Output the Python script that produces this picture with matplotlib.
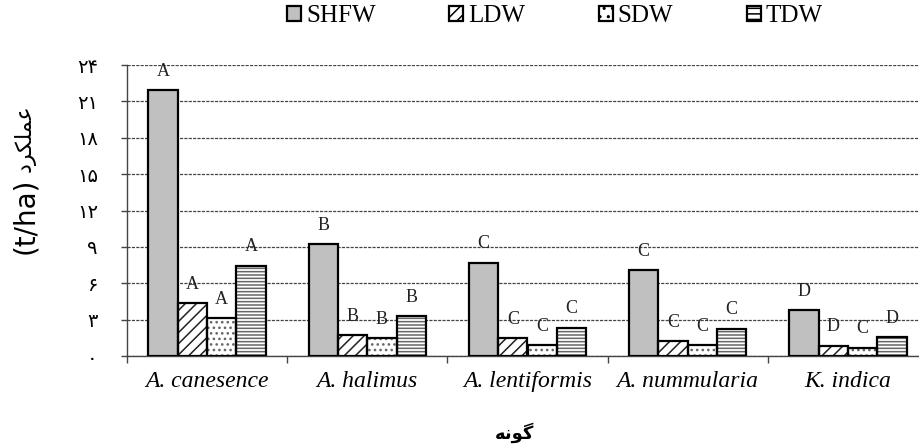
import matplotlib
matplotlib.use("Agg")
import matplotlib.pyplot as plt
from matplotlib.patches import Patch
from matplotlib.ticker import FixedLocator
import numpy as np

# Species and biomass components (t/ha)
species = ["A. canesence", "A. halimus", "A. lentiformis", "A. nummularia", "K. indica"]
series_names = ["SHFW", "LDW", "SDW", "TDW"]
shfw = [21.9, 9.2, 7.7, 7.1, 3.8]
ldw = [4.35, 1.7, 1.45, 1.25, 0.85]
sdw = [3.1, 1.45, 0.9, 0.9, 0.7]
tdw = [7.45, 3.3, 2.35, 2.25, 1.55]
# Mean-separation letters for each bar
let_shfw = ["A", "B", "C", "C", "D"]
let_ldw = ["A", "B", "C", "C", "D"]
let_sdw = ["A", "B", "C", "C", "C"]
let_tdw = ["A", "B", "C", "C", "D"]
ytick_vals = [0, 3, 6, 9, 12, 15, 18, 21, 24]
ytick_labels = ["۰", "۳", "۶", "۹", "۱۲", "۱۵", "۱۸", "۲۱", "۲۴"]
# Persian labels written in shaped presentation forms (visual order)
ylabel_unit = "(t/ha)"
ylabel_fa = "\uFEA9\uFEAE\uFB91\uFEE0\uFEE4\uFECB"
xlabel_fa = "\uFEEA\uFEE7\uFEEE\uFB94"

values = [shfw, ldw, sdw, tdw]
letters = [let_shfw, let_ldw, let_sdw, let_tdw]
styles = [
    dict(face="#c0c0c0", hatch=None, hcol="black"),
    dict(face="white", hatch="///", hcol="#222222"),
    dict(face="white", hatch="...", hcol="#666666"),
    dict(face="white", hatch="-----", hcol="#666666"),
]

plt.rcParams["hatch.linewidth"] = 1.1
fig = plt.figure(figsize=(9.2, 4.48), dpi=100)
ax = fig.add_axes([127 / 920, 92 / 448, 801 / 920, 291 / 448])

x = np.arange(len(species))
w = 0.183
for k, (vals, st) in enumerate(zip(values, styles)):
    pos = x + (k - 1.5) * w
    # hatch layer
    ax.bar(pos, vals, width=w, color=st["face"], hatch=st["hatch"],
           edgecolor=st["hcol"], linewidth=0, zorder=3)
    # outline layer
    ax.bar(pos, vals, width=w, facecolor="none", edgecolor="black",
           linewidth=1.6, zorder=4)
    for xi, v, lab in zip(pos, vals, letters[k]):
        ax.annotate(lab, (xi, v), xytext=(0, 13.5), textcoords="offset points",
                    ha="center", va="center", fontsize=13,
                    family="Liberation Serif", color="#222222", zorder=5)

ax.set_xlim(-0.5, 4.5)
ax.set_ylim(0, 24)
ax.yaxis.set_major_locator(FixedLocator(ytick_vals))
ax.set_yticklabels(ytick_labels, family="DejaVu Sans", fontsize=14)
ax.tick_params(axis="y", direction="out", length=4, width=1, color="#444444",
               pad=17, labelcolor="black")
ax.set_xticks(x)
ax.set_xticklabels(species, family="Liberation Serif", style="italic", fontsize=17)
ax.tick_params(axis="x", which="major", length=0, pad=11)
ax.xaxis.set_minor_locator(FixedLocator(np.arange(-0.5, 5.0, 1.0)))
ax.tick_params(axis="x", which="minor", direction="out", length=5, width=1,
               color="#444444")

ax.grid(axis="y", linestyle=(0, (2.5, 1)), color="#444444", linewidth=0.9, zorder=0)
ax.set_axisbelow(True)
for s in ["top", "right"]:
    ax.spines[s].set_visible(False)
for s in ["left", "bottom"]:
    ax.spines[s].set_color("#444444")
    ax.spines[s].set_linewidth(1.0)

handles = [
    Patch(facecolor="#c0c0c0", edgecolor="black", linewidth=1.6),
    Patch(facecolor="white", edgecolor="black", hatch="///", linewidth=1.6),
    Patch(facecolor="white", edgecolor="black", hatch="..", linewidth=1.6),
    Patch(facecolor="white", edgecolor="black", hatch="---", linewidth=1.6),
]
fig.legend(handles, series_names, loc="center", bbox_to_anchor=(555 / 920, 1 - 16 / 448),
           ncol=4, frameon=False, prop=dict(family="Liberation Serif", size=18),
           handlelength=0.55, handleheight=0.55, handletextpad=0.2,
           columnspacing=2.95, borderpad=0)

fig.text(25 / 920, 1 - 216 / 448, ylabel_unit, rotation=90, ha="center", va="center",
         fontsize=20, family="DejaVu Sans")
fig.text(25 / 920, 1 - 138 / 448, ylabel_fa, rotation=90, ha="center", va="center",
         fontsize=16, family="DejaVu Sans")
fig.text(515 / 920, 1 - 433 / 448, xlabel_fa, ha="center", va="center",
         fontsize=13, family="DejaVu Sans", fontweight="bold")

fig.savefig("out.png", dpi=100)
